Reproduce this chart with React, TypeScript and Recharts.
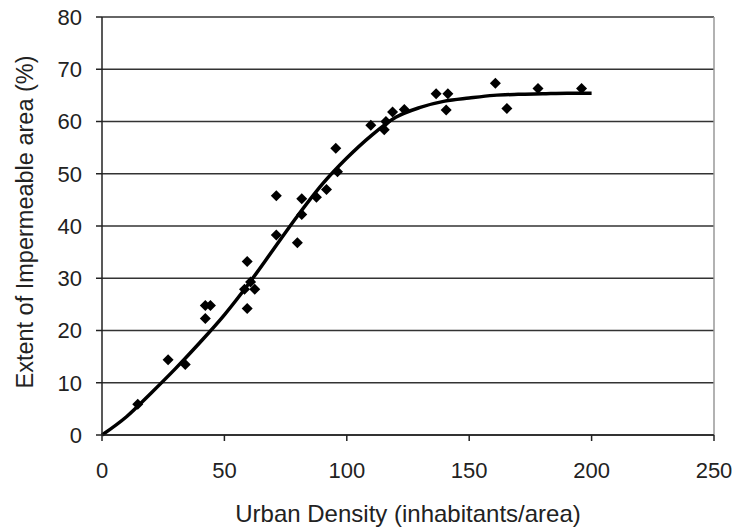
import React from "react";
import {
  ComposedChart,
  Line,
  Scatter,
  XAxis,
  YAxis,
  CartesianGrid,
  ReferenceLine,
} from "recharts";

// observed points
const densityX = [
  14.6, 27, 34, 42.2, 42.2, 44.3, 58.2, 59.3, 59.3, 60.7, 62.4, 71.2, 71.2,
  79.8, 81.6, 81.6, 87.6, 91.7, 96.2, 95.5, 109.8, 115.3, 116, 118.7, 123.5,
  136.5, 141.3, 140.6, 160.7, 165.4, 178.1, 195.9,
];
const imperviousY = [
  5.9, 14.4, 13.5, 22.3, 24.8, 24.8, 27.9, 33.2, 24.2, 29.3, 27.9, 45.8, 38.3,
  36.8, 42.2, 45.2, 45.5, 47.0, 50.4, 54.9, 59.3, 58.4, 60, 61.8, 62.3, 65.3,
  65.3, 62.2, 67.3, 62.5, 66.3, 66.3,
];

// fitted curve
const fitX = [
  0, 10, 20, 30, 40, 50, 60, 70, 80, 90, 100, 110, 120, 130, 140, 150, 160,
  170, 180, 190, 200,
];
const fitY = [
  0, 3.5, 8, 12.7, 17.7, 23, 29, 35.5, 42, 48, 53, 57.3, 60.8, 62.7, 63.9,
  64.5, 65, 65.2, 65.3, 65.4, 65.4,
];

const xTicks = [0, 50, 100, 150, 200, 250];
const yTicks = [0, 10, 20, 30, 40, 50, 60, 70, 80];

const points = densityX.map((x, i) => ({ x, y: imperviousY[i] }));
const fit = fitX.map((x, i) => ({ x, y: fitY[i] }));

const FONT = "'Liberation Sans', Arial, sans-serif";
const TEXT = "#222";

// filled diamond marker
const Diamond = (props: any) => {
  const { cx, cy } = props;
  const r = 5.5;
  return (
    <polygon
      points={`${cx},${cy - r} ${cx + r},${cy} ${cx},${cy + r} ${cx - r},${cy}`}
      fill="#000"
    />
  );
};

const YTitle = (props: any) => {
  const { viewBox } = props;
  const x = 33;
  const y = viewBox.y + viewBox.height / 2 - 4;
  return (
    <text
      x={x}
      y={y}
      transform={`rotate(-90, ${x}, ${y})`}
      textAnchor="middle"
      fill={TEXT}
      fontSize={23.5}
      fontFamily={FONT}
    >
      Extent of Impermeable area (%)
    </text>
  );
};

export default function App() {
  return (
    <div style={{ position: "absolute", left: 0, top: 0, background: "#fff" }}>
      <ComposedChart
        width={733}
        height={529}
        margin={{ top: 17, right: 19, left: 42, bottom: 0 }}
        style={{ fontFamily: FONT }}
      >
        <CartesianGrid vertical={false} stroke="#333" strokeWidth={1.5} />
        <XAxis
          type="number"
          dataKey="x"
          domain={[0, 250]}
          ticks={xTicks}
          height={94}
          tickSize={6}
          tickMargin={21}
          stroke="#222"
          strokeWidth={1.5}
          tick={{ fill: TEXT, fontSize: 22 }}
          label={{
            value: "Urban Density (inhabitants/area)",
            position: "insideBottom",
            offset: 7,
            fill: TEXT,
            fontSize: 24,
          }}
        />
        <YAxis
          type="number"
          dataKey="y"
          domain={[0, 80]}
          ticks={yTicks}
          width={60}
          tickSize={6}
          tickMargin={14}
          stroke="#222"
          strokeWidth={1.5}
          tick={{ fill: TEXT, fontSize: 22 }}
          label={{ content: YTitle }}
        />
        <ReferenceLine x={250} stroke="#999" strokeWidth={1.5} />
        <Line
          data={fit}
          dataKey="y"
          type="monotone"
          stroke="#000"
          strokeWidth={3.5}
          dot={false}
          isAnimationActive={false}
        />
        <Scatter
          data={points}
          dataKey="y"
          fill="#000"
          shape={Diamond}
          isAnimationActive={false}
        />
      </ComposedChart>
    </div>
  );
}
